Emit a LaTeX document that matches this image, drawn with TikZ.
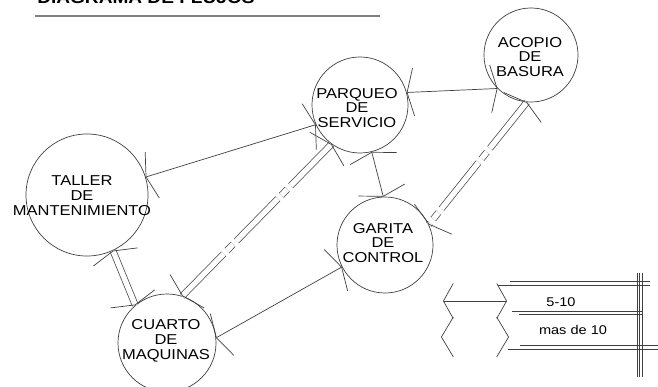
\documentclass[tikz,border=0pt]{standalone}
\usepackage{fontspec}
\newfontfamily\diagfont[FakeStretch=1.15]{Liberation Sans}
\usetikzlibrary{arrows.meta}
\definecolor{inkgray}{rgb}{0.25,0.25,0.25}
\definecolor{rulegray}{rgb}{0.5,0.5,0.5}
\tikzset{
  barbtip/.tip={Straight Barb[length=4.6pt, width=34pt]},
  keytip/.tip={Straight Barb[length=7pt, width=25pt]},
  keytipb/.tip={Straight Barb[length=8.5pt, width=28.5pt]},
}
\begin{document}
\begin{tikzpicture}[
  x=0.025cm, y=-0.025cm,
  place/.style={draw=inkgray, line width=0.5pt, circle, inner sep=0pt},
  lbl/.style={font=\diagfont\fontsize{10.2}{10.6}\selectfont, align=center, inner sep=0pt},
  flow/.style={draw=inkgray, line width=0.5pt, barbtip-barbtip},
  wide/.style={draw=inkgray, line width=0.5pt, double=white, double distance=3.8pt},
  broken/.style={wide, dash pattern=on 42pt off 3.5pt on 6pt off 3.5pt},
  widetips/.style={draw=white, line width=0.2pt, {barbtip[color=inkgray, line width=0.5pt]}-{barbtip[color=inkgray, line width=0.5pt]}},
  keytips/.style={draw=white, line width=0.2pt, {keytipb[color=inkgray, line width=0.5pt]}-{keytipb[color=inkgray, line width=0.5pt]}},
  key/.style={font=\diagfont\fontsize{9}{9}\selectfont, inner sep=0pt},
  rule/.style={draw=inkgray, line width=0.5pt},
]
\useasboundingbox (0,0) rectangle (658,387);
\clip (0,0) rectangle (658,387);

% Title
\node[font=\diagfont\fontsize{11.8}{12}\selectfont\bfseries, anchor=base west, inner sep=0pt] (title) at (37,4) {DIAGRAMA DE FLUJOS};
\draw[draw=rulegray, line width=1.1pt] (35,16) -- (380,16);

% Nodes
\node[place, minimum size=3.05cm] (taller) at (87,195) {};
\node[place, minimum size=2.45cm] (cuarto) at (167,343) {};
\node[place, minimum size=2.4cm] (parqueo) at (360,105) {};
\node[place, minimum size=2.35cm] (acopio) at (531,55) {};
\node[place, minimum size=2.4cm] (garita) at (385,245) {};

\node[lbl] (tallertxt) at (82,196) {TALLER\\DE\\MANTENIMIENTO};
\node[lbl] (cuartotxt) at (166,341) {CUARTO\\DE\\MAQUINAS};
\node[lbl] (parqueotxt) at (357,108) {PARQUEO\\DE\\SERVICIO};
\node[lbl] (acopiotxt) at (530,57) {ACOPIO\\DE\\BASURA};
\node[lbl] (garitatxt) at (383,243) {GARITA\\DE\\CONTROL};

% Arrows
\draw[flow] (taller.17.6) -- (parqueo.204);
\draw[flow] (cuarto.6) -- (garita.207);
\draw[flow] (parqueo.284) -- (garita.92);
\draw[flow] (parqueo.15) -- (acopio.225);

\draw[wide] (taller.295) -- (cuarto.130);
\draw[widetips] (taller.295) -- (cuarto.130);
\draw[broken] (cuarto.72) -- (parqueo.234);
\draw[widetips] (cuarto.72) -- (parqueo.234);
\draw[broken] (acopio.265) -- (garita.25);
\draw[widetips] (acopio.265) -- (garita.25);

% Legend
\coordinate (k1a) at (443,301);
\coordinate (k1b) at (507,301);
\coordinate (k2a) at (441,337);
\coordinate (k2b) at (509,337);
\draw[rule, keytip-keytip] (k1a) -- (k1b);
\draw[wide] (k2a) -- (k2b);
\draw[keytips] (k2a) -- (k2b);

\draw[rule] (510,281) -- (650,281);
\draw[rule] (498,285) -- (650,285);
\draw[rule] (512,311) -- (643,311);
\draw[rule] (519,314) -- (643,314);
\draw[rule] (520,345) -- (658,345);
\draw[rule] (508,349) -- (658,349);
\foreach \kx in {637,639.5,642}
  \draw[rule] (\kx,273) -- (\kx,377);

\node[key] (low) at (561,302) {5-10};
\node[key] (high) at (573,330) {mas de 10};

\end{tikzpicture}
\end{document}
